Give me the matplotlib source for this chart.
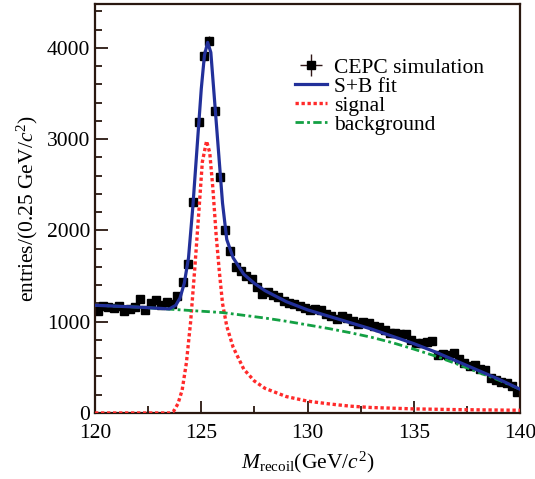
import numpy as np
import matplotlib
matplotlib.use("Agg")
from matplotlib import pyplot as plt

plt.rcParams['font.family'] = ['Liberation Serif', 'DejaVu Serif']
plt.rcParams['mathtext.fontset'] = 'custom'
plt.rcParams['mathtext.rm'] = 'Liberation Serif'
plt.rcParams['mathtext.it'] = 'Liberation Serif:italic'

# measured points, 0.25 GeV bins from 120 to 140
bin_lo = 120.0
bin_w = 0.25
counts = [1120, 1170, 1160, 1150, 1175, 1120, 1140, 1160, 1250, 1130,
          1200, 1240, 1180, 1220, 1190, 1280, 1430, 1630, 2310, 3190,
          3910, 4070, 3310, 2580, 2000, 1770, 1600, 1560, 1500, 1470,
          1380, 1300, 1330, 1290, 1275, 1230, 1210, 1190, 1170, 1150,
          1130, 1140, 1130, 1080, 1060, 1030, 1060, 1040, 1010, 980,
          1000, 990, 950, 940, 910, 880, 880, 860, 860, 800,
          770, 770, 780, 790, 640, 650, 640, 660, 590, 550,
          520, 530, 480, 470, 380, 360, 340, 330, 300, 230]

# S+B fit curve
fit_m = [120, 122, 123.5, 123.8, 124.0, 124.2, 124.4, 124.6, 124.8, 125.0,
         125.15, 125.3, 125.45, 125.6, 125.8, 126.0, 126.2, 126.5, 127.0, 127.5,
         128, 129, 130, 131, 132, 133, 134, 135, 136, 137, 138, 139, 140]
fit_v = [1180, 1160, 1140, 1180, 1260, 1420, 1700, 2250, 2900, 3550,
         3920, 4060, 3950, 3500, 2900, 2300, 1900, 1700, 1520, 1420,
         1340, 1220, 1130, 1060, 990, 920, 840, 760, 670, 570, 470, 370, 260]

# signal component
sig_m = [120, 123.5, 123.7, 123.9, 124.1, 124.3, 124.5, 124.7, 124.9, 125.05,
         125.25, 125.4, 125.55, 125.7, 125.85, 126.0, 126.2, 126.5, 127.0, 127.5,
         128, 129, 130, 131, 132, 133, 135, 137, 140]
sig_v = [0, 0, 20, 100, 250, 550, 1000, 1600, 2250, 2750,
         2980, 2850, 2450, 1950, 1550, 1200, 950, 720, 480, 350,
         270, 180, 130, 100, 75, 60, 45, 37, 30]

# background component
bkg_m = [120, 121, 122, 123, 124, 125, 126, 127, 128, 129, 130,
         131, 132, 133, 134, 135, 136, 137, 138, 139, 140]
bkg_v = [1180, 1170, 1160, 1145, 1130, 1115, 1100, 1070, 1040, 1005, 965,
         925, 880, 830, 770, 700, 625, 540, 450, 360, 260]

centers = bin_lo + bin_w * (np.arange(len(counts)) + 0.5)
counts = np.array(counts, dtype=float)

fig = plt.figure(figsize=(5.35, 4.79), dpi=100)
ax = fig.add_axes([0.1776, 0.1378, 0.7944, 0.8538])

h_data = ax.errorbar(centers, counts, yerr=np.sqrt(counts), xerr=bin_w / 2,
                     fmt='s', color='black', ecolor='#301818', elinewidth=1.0,
                     markersize=5.5, capsize=0, zorder=2)
h_fit, = ax.plot(fit_m, fit_v, color='#22309a', lw=2.3, zorder=4)
h_sig, = ax.plot(sig_m, sig_v, color='#ff2a2a', lw=2.4, linestyle=(0, (1, 0.8)),
                 zorder=3)
h_bkg, = ax.plot(bkg_m, bkg_v, color='#13a043', lw=2.0,
                 linestyle=(0, (3, 1.2, 1, 1.2)), zorder=3)

ax.set_xlim(120, 140)
ax.set_ylim(0, 4480)
ax.set_xticks([120, 125, 130, 135, 140])
ax.set_xticks([122.5, 127.5, 132.5, 137.5], minor=True)
ax.set_yticks([0, 1000, 2000, 3000, 4000])
ax.set_yticks(np.arange(200, 4480, 200), minor=True)
ax.tick_params(which='both', direction='in', labelsize=15.5, width=1.3,
               color='#2a1810', top=False, right=False)
ax.tick_params(which='major', length=9)
ax.tick_params(which='minor', length=5)
ax.tick_params(axis='x', pad=8)
for s in ax.spines.values():
    s.set_linewidth(1.6)
    s.set_color('#2a1810')

ax.set_xlabel(r'$M_{\rm recoil}$(GeV/$c^2$)', fontsize=15.5, labelpad=5)
ax.set_ylabel(r'entries/(0.25 GeV/$c^2$)', fontsize=15.5, labelpad=5)

ax.legend([h_data, h_fit, h_sig, h_bkg],
          ['CEPC simulation', 'S+B fit', 'signal', 'background'],
          loc='upper left', bbox_to_anchor=(0.45, 0.89), frameon=False,
          fontsize=15.5, handlelength=1.5, handletextpad=0.3,
          labelspacing=-0.05, borderaxespad=0)

fig.savefig('out.png', dpi=100)
